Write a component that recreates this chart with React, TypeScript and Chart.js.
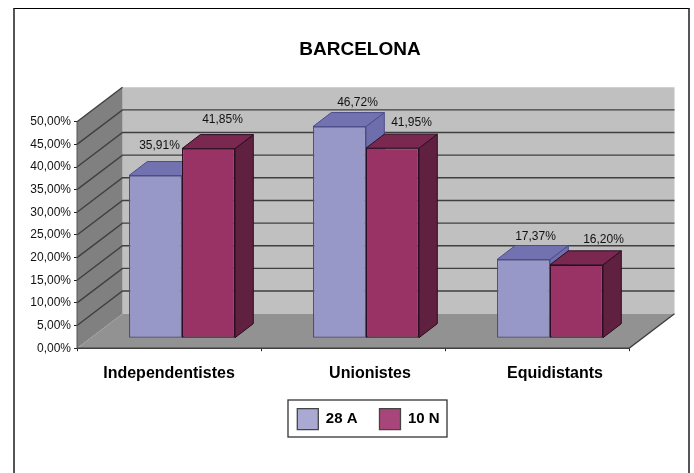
import React, { useEffect, useRef } from "react";
import { Chart, registerables } from "chart.js";

Chart.register(...registerables);

const categories = ["Independentistes", "Unionistes", "Equidistants"];
const seriesNames = ["28 A", "10 N"];
const values28A = [35.91, 46.72, 17.37];
const values10N = [41.85, 41.95, 16.2];
const labelNudgeX = [[4, 18, 12], [14, 19, 27]];
const labelNudgeY = [[-15.5, -9.5, -9], [-14.5, -11, -11]];
const categoryLabelNudge = [0, 17, 18];
const legendFills = ["#A9A9D1", "#A8457A"];

const WALL_DX = 45.5;
const WALL_DY = 34.5;
const FRONT_DX = 13;
const FRONT_DY = 10;
const BAR_DX = 18.3;
const BAR_DY = 14;
const FONT = "'Liberation Sans', Arial, sans-serif";

const barFaces = [
  { front: "#9797C8", top: "#7272B0", side: "#6E6EAC", stroke: "#4D4D8C" },
  { front: "#993366", top: "#7A2850", side: "#60203F", stroke: "#2B0E22" },
];

function poly(ctx: CanvasRenderingContext2D, pts: number[][], fill: string, stroke?: string, lw = 1) {
  ctx.beginPath();
  pts.forEach(([x, y], i) => (i ? ctx.lineTo(x, y) : ctx.moveTo(x, y)));
  ctx.closePath();
  ctx.fillStyle = fill;
  ctx.fill();
  if (stroke) {
    ctx.strokeStyle = stroke;
    ctx.lineWidth = lw;
    ctx.stroke();
  }
}

const chart3d = {
  id: "chart3d",
  afterLayout(chart: any) {
    const t = chart.titleBlock;
    t.left += 45.5;
    t.right += 45.5;
    const l = chart.legend;
    const w = l.right - l.left;
    const h = l.bottom - l.top;
    const pad = l.options.labels.padding;
    l.left = 297.3 - pad;
    l.right = l.left + w;
    l.top = 408.7 - pad;
    l.bottom = l.top + h;
  },
  beforeDraw(chart: any) {
    chart.scales.x.getLabelItems().forEach((item: any, i: number) => {
      item.options.translation = [item.options.translation[0] + categoryLabelNudge[i], item.options.translation[1]];
    });
  },
  beforeDatasetsDraw(chart: any) {
    const { ctx, chartArea: a, scales } = chart;
    const y = scales.y;
    const y0 = y.getPixelForValue(0);
    const yMax = y.getPixelForValue(50);
    ctx.save();
    poly(ctx, [[a.left + WALL_DX, yMax - WALL_DY], [a.right + WALL_DX, yMax - WALL_DY], [a.right + WALL_DX, y0 - WALL_DY], [a.left + WALL_DX, y0 - WALL_DY]], "#C0C0C0");
    poly(ctx, [[a.left, yMax], [a.left + WALL_DX, yMax - WALL_DY], [a.left + WALL_DX, y0 - WALL_DY], [a.left, y0]], "#808080");
    poly(ctx, [[a.left, y0], [a.right, y0], [a.right + WALL_DX, y0 - WALL_DY], [a.left + WALL_DX, y0 - WALL_DY]], "#929292");
    y.ticks.forEach((tk: any) => {
      const p = y.getPixelForValue(tk.value);
      ctx.strokeStyle = "#3F3F3F";
      ctx.lineWidth = 1.4;
      ctx.beginPath();
      if (tk.value === 0) {
        ctx.moveTo(a.left, p);
        ctx.lineTo(a.right, p);
        ctx.lineTo(a.right + WALL_DX, p - WALL_DY);
      } else if (tk.value === 50) {
        ctx.moveTo(a.left, p);
        ctx.lineTo(a.left + WALL_DX, p - WALL_DY);
      } else {
        ctx.moveTo(a.left, p);
        ctx.lineTo(a.left + WALL_DX, p - WALL_DY);
        ctx.lineTo(a.right + WALL_DX, p - WALL_DY);
      }
      ctx.stroke();
    });
    ctx.strokeStyle = "#555";
    ctx.lineWidth = 1;
    ctx.beginPath();
    ctx.moveTo(a.left, yMax);
    ctx.lineTo(a.left, y0);
    ctx.stroke();
    ctx.restore();
  },
  // Chart.js paints the first dataset last; paint them left to right instead,
  // so each bar's front hides the side face of the bar to its left.
  beforeDatasetDraw() {
    return false;
  },
  afterDatasetsDraw(chart: any) {
    const { ctx } = chart;
    chart.data.datasets.forEach((_: any, d: number) => {
      const meta = chart.getDatasetMeta(d);
      const f = barFaces[d];
      ctx.save();
      ctx.translate(FRONT_DX, -FRONT_DY);
      meta.data.forEach((el: any) => {
        const { x, y, base, width } = el.getProps(["x", "y", "base", "width"], true);
        const l = x - width / 2;
        const r = x + width / 2;
        poly(ctx, [[r, y], [r + BAR_DX, y - BAR_DY], [r + BAR_DX, base - BAR_DY], [r, base]], f.side, f.stroke, 1);
        poly(ctx, [[l, y], [l + BAR_DX, y - BAR_DY], [r + BAR_DX, y - BAR_DY], [r, y]], f.top, f.stroke, 1);
      });
      meta.controller.draw();
      ctx.restore();
    });
    ctx.save();
    ctx.font = `12px ${FONT}`;
    ctx.fillStyle = "#111";
    ctx.textAlign = "center";
    ctx.textBaseline = "middle";
    chart.data.datasets.forEach((ds: any, d: number) => {
      chart.getDatasetMeta(d).data.forEach((el: any, i: number) => {
        const { x, y } = el.getProps(["x", "y"], true);
        const text = ds.data[i].toFixed(2).replace(".", ",") + "%";
        ctx.fillText(text, x + FRONT_DX + labelNudgeX[d][i], y - FRONT_DY - BAR_DY + labelNudgeY[d][i]);
      });
    });
    ctx.restore();
  },
  afterDraw(chart: any) {
    const { ctx, legend } = chart;
    const pad = legend.options.labels.padding;
    ctx.save();
    ctx.strokeStyle = "#333";
    ctx.lineWidth = 1.3;
    ctx.strokeRect(legend.left + pad - 9.3, legend.top + pad - 8.7, 159, 37);
    ctx.restore();
  },
};

export default function App() {
  const ref = useRef<HTMLCanvasElement>(null);
  useEffect(() => {
    const chart = new Chart(ref.current!, {
      type: "bar",
      data: {
        labels: categories,
        datasets: [
          { label: seriesNames[0], data: values28A, backgroundColor: barFaces[0].front, borderColor: barFaces[0].stroke },
          { label: seriesNames[1], data: values10N, backgroundColor: barFaces[1].front, borderColor: barFaces[1].stroke },
        ],
      },
      options: {
        animation: false,
        responsive: false,
        devicePixelRatio: 1,
        layout: { padding: { left: 0, right: 65, top: 0, bottom: 16.4 } },
        datasets: { bar: { clip: false, borderWidth: 1.2, borderSkipped: false, categoryPercentage: 0.576, barPercentage: 1 } },
        plugins: {
          tooltip: { enabled: false },
          title: {
            display: true,
            text: "BARCELONA",
            color: "#000",
            font: { family: FONT, size: 19, weight: "bold", lineHeight: 1.2 },
            padding: { top: 38, bottom: 60.9 },
          },
          legend: {
            position: "bottom",
            align: "start",
            onClick: undefined,
            labels: {
              color: "#000",
              font: { family: FONT, size: 15, weight: "bold" },
              boxWidth: 21,
              boxHeight: 21,
              padding: 22,
              generateLabels: (c: any) =>
                c.data.datasets.map((ds: any, i: number) => ({
                  text: ds.label,
                  fillStyle: legendFills[i],
                  strokeStyle: "#444",
                  lineWidth: 1.3,
                  fontColor: "#000",
                  datasetIndex: i,
                })),
            },
          },
        },
        scales: {
          x: {
            afterFit: (s: any) => { s.height = 55.4; },
            border: { color: "#333", width: 1 },
            grid: { drawOnChartArea: false, drawTicks: true, tickLength: 3, color: "#222" },
            ticks: { color: "#000", padding: 13, maxRotation: 0, font: { family: FONT, size: 16, weight: "bold" } },
          },
          y: {
            min: 0,
            max: 50,
            afterFit: (s: any) => { s.width = 77; },
            border: { display: false },
            grid: { drawOnChartArea: false, drawTicks: true, tickLength: 3, color: "#222" },
            ticks: {
              stepSize: 5,
              color: "#111",
              padding: 3,
              font: { family: FONT, size: 12 },
              callback: (v: any) => Number(v).toFixed(2).replace(".", ",") + "%",
            },
          },
        },
      } as any,
      plugins: [chart3d],
    });
    return () => chart.destroy();
  }, []);
  return (
    <div style={{ position: "absolute", left: 0, top: 0, width: 694, height: 473, overflow: "hidden", background: "#fff" }}>
      <div
        style={{
          position: "absolute",
          left: 13,
          top: 8,
          width: 673,
          height: 480,
          borderTop: "1.5px solid #000",
          borderLeft: "2.5px solid #555",
          borderRight: "2.5px solid #555",
        }}
      />
      <canvas ref={ref} width={694} height={473} style={{ position: "absolute", left: 0, top: 0, width: 694, height: 473 }} />
    </div>
  );
}
